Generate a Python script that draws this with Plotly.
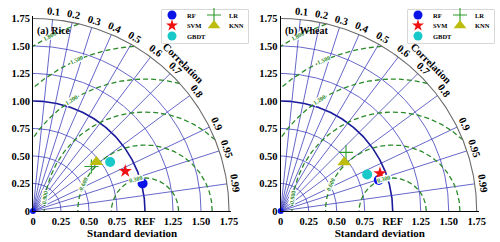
import numpy as np
import plotly.graph_objects as go

# ---------------- data ----------------
models = ["RF", "SVM", "GBDT", "LR", "KNN"]
rice_std = [1.01, 0.90, 0.82, 0.66, 0.72]
rice_corr = [0.969, 0.915, 0.840, 0.790, 0.786]
wheat_std = [0.92, 0.95, 0.84, 0.79, 0.72]
wheat_corr = [0.952, 0.933, 0.919, 0.738, 0.788]
panel_titles = ["(a) Rice", "(b) Wheat"]

ref_std = 1.0
corr_ticks = [0.1, 0.2, 0.3, 0.4, 0.5, 0.6, 0.7, 0.8, 0.9, 0.95, 0.99]
std_grid = [0.25, 0.5, 0.75, 1.0, 1.25, 1.5]
std_max = 1.75
rms_levels = [0.3, 0.6, 0.9, 1.2, 1.5, 1.8]
rms_labels = ["0.300", "0.600", "0.900", "1.200", "1.500", "1.800"]
tick_vals = [0, 0.25, 0.5, 0.75, 1.0, 1.25, 1.5, 1.75]
x_tick_text = ["0", "0.25", "0.50", "0.75", "REF", "1.25", "1.50", "1.75"]
y_tick_text = ["0", "0.25", "0.50", "0.75", "1.00", "1.25", "1.50", "1.75"]

# ---------------- styles ----------------
FONT = "Liberation Serif"
styles = {
    "RF": dict(symbol="circle", color="#0a14e6", size=10, line=dict(width=0)),
    "SVM": dict(symbol="star", color="#ee1111", size=10, line=dict(width=0)),
    "GBDT": dict(symbol="circle", color="#19c8c8", size=10, line=dict(width=0)),
    "LR": dict(symbol="cross-thin", color="#2a9a2a", size=10, line=dict(width=1.1, color="#2a9a2a")),
    "KNN": dict(symbol="triangle-up", color="#bdbd10", size=12, line=dict(width=0)),
}
legend_sizes = {"RF": 9, "SVM": 9, "GBDT": 9, "LR": 10, "KNN": 11}
rms_label_angle = [105, 156, 172, 123, 114, 118]  # degrees about REF point
blue = "rgba(55,55,185,0.85)"
green = "#2a8a2a"

W, H = 500, 242
px_per_x, px_per_y = 112.0, 110.0
rng = 1.77
panels_px = [33.0, 280.7]   # pixel x of origin
y0_px = 211.0
legend_left = [162.0, 408.0]

fig = go.Figure()
layout_axes = {}
annotations = []
shapes = []


def to_paper(p, x, y):
    px = panels_px[p] + x * px_per_x
    py = y0_px - y * px_per_y
    return px / W, (H - py) / H


for p in range(2):
    xa = "x" if p == 0 else "x2"
    ya = "y" if p == 0 else "y2"
    std = rice_std if p == 0 else wheat_std
    corr = rice_corr if p == 0 else wheat_corr

    # std arcs
    t = np.linspace(0, np.pi / 2, 200)
    for s in std_grid:
        is_ref = abs(s - ref_std) < 1e-9
        fig.add_trace(go.Scatter(x=s * np.cos(t), y=s * np.sin(t), mode="lines",
                                 line=dict(color="#1a1a9a" if is_ref else blue,
                                           width=1.6 if is_ref else 0.9),
                                 xaxis=xa, yaxis=ya, showlegend=False, hoverinfo="skip"))
    # radial correlation lines
    for c in corr_ticks:
        th = np.arccos(c)
        fig.add_trace(go.Scatter(x=[0, std_max * np.cos(th)], y=[0, std_max * np.sin(th)],
                                 mode="lines", line=dict(color=blue, width=0.9),
                                 xaxis=xa, yaxis=ya, showlegend=False, hoverinfo="skip"))
    # RMS arcs
    tt = np.linspace(0, np.pi, 800)
    for k, R in enumerate(rms_levels):
        xs = ref_std + R * np.cos(tt)
        ys = R * np.sin(tt)
        mask = (xs ** 2 + ys ** 2 <= std_max ** 2) & (xs >= 0)
        xs = np.where(mask, xs, np.nan)
        ys = np.where(mask, ys, np.nan)
        fig.add_trace(go.Scatter(x=xs, y=ys, mode="lines",
                                 line=dict(color=green, width=1.3, dash="5px,3px"),
                                 xaxis=xa, yaxis=ya, showlegend=False, hoverinfo="skip",
                                 connectgaps=False))
        a = np.deg2rad(rms_label_angle[k])
        ax_, ay_ = to_paper(p, ref_std + R * np.cos(a), R * np.sin(a))
        annotations.append(dict(x=ax_, y=ay_, xref="paper", yref="paper",
                                xanchor="center", yanchor="middle",
                                text=rms_labels[k], showarrow=False,
                                textangle=-(rms_label_angle[k] - 90),
                                font=dict(family=FONT, size=6, color=green, weight="bold"),
                                bgcolor="white", borderpad=0))
    # outer arc
    fig.add_trace(go.Scatter(x=std_max * np.cos(t), y=std_max * np.sin(t), mode="lines",
                             line=dict(color="#6b6b6b", width=1.1),
                             xaxis=xa, yaxis=ya, showlegend=False, hoverinfo="skip"))
    # correlation labels
    for c in corr_ticks:
        th = np.arccos(c)
        ax_, ay_ = to_paper(p, 1.82 * np.cos(th), 1.82 * np.sin(th))
        annotations.append(dict(x=ax_, y=ay_, xref="paper", yref="paper",
                                xanchor="center", yanchor="middle",
                                text=f"{c:g}", showarrow=False,
                                textangle=90 - np.rad2deg(th),
                                font=dict(family=FONT, size=10.5, color="black", weight="bold")))
    ax_, ay_ = to_paper(p, 1.9 * np.cos(np.pi / 4), 1.9 * np.sin(np.pi / 4))
    annotations.append(dict(x=ax_, y=ay_, xref="paper", yref="paper",
                            xanchor="center", yanchor="middle",
                            text="Correlation", showarrow=False, textangle=45,
                            font=dict(family=FONT, size=10.5, color="black", weight="bold")))
    ax_, ay_ = to_paper(p, 0.02, 1.64)
    annotations.append(dict(x=ax_, y=ay_, xref="paper", yref="paper", text=panel_titles[p],
                            showarrow=False, xanchor="left", yanchor="middle",
                            font=dict(family=FONT, size=10, color="black", weight="bold")))
    # origin dot
    fig.add_trace(go.Scatter(x=[0], y=[0], mode="markers",
                             marker=dict(color="#0a14e6", size=6), cliponaxis=False,
                             xaxis=xa, yaxis=ya, showlegend=False, hoverinfo="skip"))
    # model points
    for m, s, c in zip(models, std, corr):
        st = styles[m]
        th = np.arccos(c)
        fig.add_trace(go.Scatter(x=[s * np.cos(th)], y=[s * np.sin(th)], mode="markers",
                                 marker=dict(symbol=st["symbol"], color=st["color"], size=st["size"],
                                             line=st["line"]),
                                 name=m, xaxis=xa, yaxis=ya, showlegend=False))

    # axes
    ox = panels_px[p]
    xdom = [ox / W, (ox + rng * px_per_x) / W]
    ydom = [(H - y0_px) / H, (H - (y0_px - rng * px_per_y)) / H]
    suffix = "" if p == 0 else "2"
    layout_axes["xaxis" + suffix] = dict(
        domain=xdom, range=[0, rng], anchor=ya, tickvals=tick_vals, ticktext=x_tick_text,
        showgrid=False, zeroline=False, showline=True, linecolor="black", linewidth=1,
        ticks="", automargin=False,
        tickfont=dict(family=FONT, size=10.5, color="black", weight="bold"),
        title=dict(text="Standard deviation", standoff=1,
                   font=dict(family=FONT, size=11, color="black", weight="bold")),
        fixedrange=True)
    layout_axes["yaxis" + suffix] = dict(
        domain=ydom, range=[0, rng], anchor=xa, tickvals=tick_vals, ticktext=y_tick_text,
        showgrid=False, zeroline=False, showline=True, linecolor="black", linewidth=1,
        ticks="", automargin=False,
        tickfont=dict(family=FONT, size=10.5, color="black", weight="bold"),
        fixedrange=True)

    # manual legend box
    L = legend_left[p]
    top, bot, bw = 9.5, 43.5, 86.0
    lx = "x" + str(3 + p)
    ly = "y" + str(3 + p)
    layout_axes["xaxis" + str(3 + p)] = dict(domain=[L / W, (L + bw) / W], range=[0, bw],
                                             visible=False, anchor=ly, fixedrange=True,
                                             automargin=False)
    layout_axes["yaxis" + str(3 + p)] = dict(domain=[(H - bot) / H, (H - top) / H],
                                             range=[bot - top, 0], visible=False, anchor=lx,
                                             fixedrange=True, automargin=False)
    shapes.append(dict(type="rect", xref="paper", yref="paper", x0=L / W, x1=(L + bw) / W,
                       y0=(H - bot) / H, y1=(H - top) / H,
                       line=dict(color="#b0b0b0", width=1), fillcolor="white", layer="below"))
    slots = {"RF": (10, 5.5), "SVM": (10, 16), "GBDT": (10, 26.5), "LR": (52, 5.5), "KNN": (52, 16)}
    for m in models:
        st = styles[m]
        mx, my = slots[m]
        fig.add_trace(go.Scatter(x=[mx], y=[my], mode="markers",
                                 marker=dict(symbol=st["symbol"], color=st["color"],
                                             size=legend_sizes[m], line=st["line"]),
                                 xaxis=lx, yaxis=ly, showlegend=False, hoverinfo="skip",
                                 cliponaxis=False))
        annotations.append(dict(x=mx + 13, y=my, xref=lx, yref=ly, text=m, showarrow=False,
                                xanchor="left", yanchor="middle",
                                font=dict(family=FONT, size=6.5, color="black", weight="bold")))

fig.update_layout(width=W, height=H, margin=dict(l=0, r=0, t=0, b=0, autoexpand=False),
                  paper_bgcolor="white", plot_bgcolor="white", template="none",
                  annotations=annotations, shapes=shapes, showlegend=False, **layout_axes)
fig.write_html("out.html", config={"displayModeBar": False, "staticPlot": True},
               post_script="document.body.style.margin='0';document.body.style.overflow='hidden';")
